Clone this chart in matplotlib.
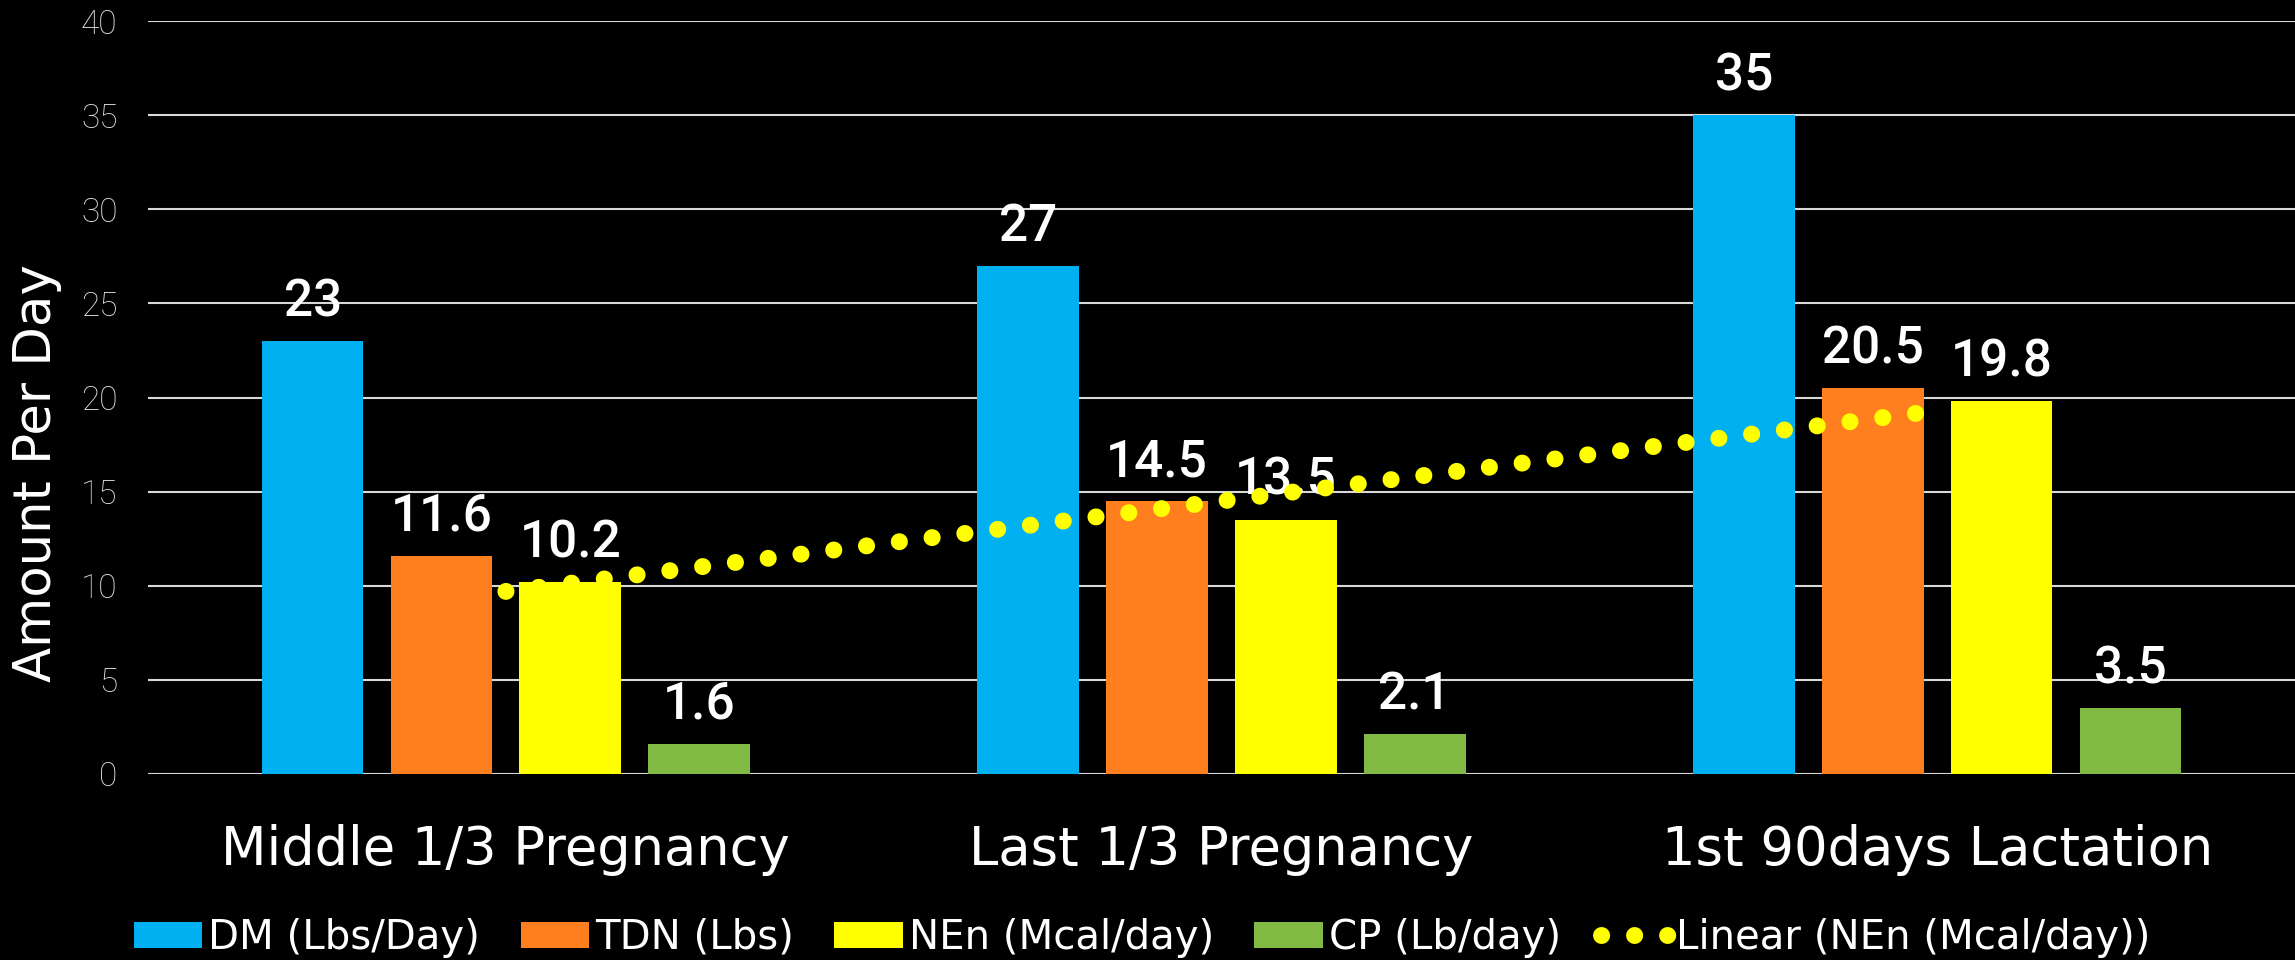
import matplotlib.pyplot as plt
import numpy as np

# feed requirements per stage
stages = ["Middle 1/3 Pregnancy", "Last 1/3 Pregnancy", "1st 90days Lactation"]
dm = [23, 27, 35]
tdn = [11.6, 14.5, 20.5]
nen = [10.2, 13.5, 19.8]
cp = [1.6, 2.1, 3.5]

series_names = ["DM (Lbs/Day)", "TDN (Lbs)", "NEn (Mcal/day)", "CP (Lb/day)"]
colors = ["#00B0F0", "#FF7F1F", "#FFFF00", "#80BA42"]
yticks = [0, 5, 10, 15, 20, 25, 30, 35, 40]

fig = plt.figure(figsize=(22.95, 9.6), dpi=100, facecolor="black")
ax = fig.add_axes([0.0645, 0.19375, 0.9355, 0.7843])
ax.set_facecolor("black")

x = np.arange(len(stages))
step = 0.18
width = 0.142
for i, (vals, name, col) in enumerate(zip([dm, tdn, nen, cp], series_names, colors)):
    pos = x + (i - 1.5) * step
    ax.bar(pos, vals, width, color=col, label=name, zorder=2)
    for px, v in zip(pos, vals):
        ax.annotate(f"{v:g}", (px, v), xytext=(0, 18), textcoords="offset points",
                    ha="center", va="baseline", color="white", fontsize=37,
                    family="Roboto", fontweight="medium", zorder=3)

# linear trend of NEn
coef = np.polyfit(x, nen, 1)
ax.plot(x, np.polyval(coef, x), color="#FFFF00", linewidth=12.2,
        linestyle=(0, (0.01, 1.94)), dash_capstyle="round", zorder=4,
        label="Linear (NEn (Mcal/day))")

ax.set_xlim(-0.5, 2.5)
ax.set_ylim(0, 40)
ax.set_yticks(yticks)
ax.set_xticks(x)
ax.set_xticklabels(stages, fontsize=38, color="white")
for lab in ax.get_yticklabels():
    lab.set_fontsize(24)
    lab.set_family("Roboto")
    lab.set_fontweight("light")
    lab.set_color("#E6E6E6")
ax.tick_params(axis="x", length=0, pad=36)
ax.tick_params(axis="y", length=0, pad=22)
for s in ax.spines.values():
    s.set_visible(False)
ax.yaxis.grid(True, color="#D9D9D9", linewidth=1.5, zorder=0)
ax.set_axisbelow(True)

ax.set_ylabel("Amount Per Day", fontsize=37, color="white", fontweight="medium")
ax.yaxis.set_label_coords(-0.040, 0.40)

handles, labels = ax.get_legend_handles_labels()
order = [1, 2, 3, 4, 0]
fig.legend([handles[k] for k in order], [labels[k] for k in order],
           loc="center", bbox_to_anchor=(0.4976, 0.023), ncol=5, frameon=False,
           fontsize=29, handlelength=1.7, handleheight=0.6,
           handletextpad=0.15, columnspacing=1.0, labelcolor="white")

fig.savefig("out.png", dpi=100, facecolor="black")
